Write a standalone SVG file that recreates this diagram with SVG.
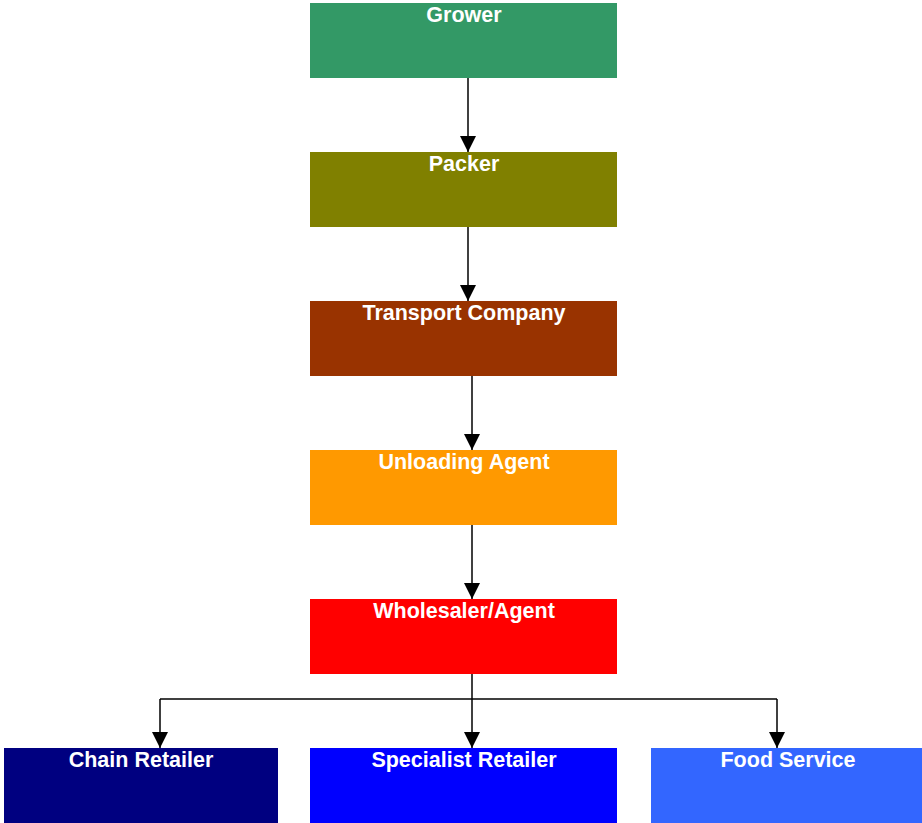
<svg xmlns="http://www.w3.org/2000/svg" width="922" height="823" viewBox="0 0 922 823">
<style>
.lbl{font-family:"Liberation Sans",Arial,sans-serif;font-weight:bold;font-size:21.5px;fill:#fff;text-anchor:middle}
.conn{stroke:#000;stroke-width:1.5;fill:none}
</style>
<defs>
<marker id="ah" markerUnits="userSpaceOnUse" markerWidth="18" markerHeight="16" refX="16" refY="8" orient="auto">
<path d="M0,0 L16,8 L0,16 Z" fill="#000"/>
</marker>
</defs>
<rect width="922" height="823" fill="#fff"/>
<g id="grower"><rect x="310" y="3" width="307" height="75" fill="#339966"/><text class="lbl" x="464" y="22">Grower</text></g>
<g id="packer"><rect x="310" y="152" width="307" height="75" fill="#808000"/><text class="lbl" x="464" y="171">Packer</text></g>
<g id="transport"><rect x="310" y="301" width="307" height="75" fill="#993300"/><text class="lbl" x="464" y="320">Transport Company</text></g>
<g id="unloading"><rect x="310" y="450" width="307" height="75" fill="#FF9900"/><text class="lbl" x="464" y="469">Unloading Agent</text></g>
<g id="wholesaler"><rect x="310" y="599" width="307" height="75" fill="#FF0000"/><text class="lbl" x="464" y="618">Wholesaler/Agent</text></g>
<g id="chain"><rect x="4" y="748" width="274" height="75" fill="#000080"/><text class="lbl" x="141" y="767">Chain Retailer</text></g>
<g id="specialist"><rect x="310" y="748" width="307" height="75" fill="#0000FF"/><text class="lbl" x="464" y="767">Specialist Retailer</text></g>
<g id="food"><rect x="651" y="748" width="271" height="75" fill="#3366FF"/><text class="lbl" x="788" y="767">Food Service</text></g>
<g id="connectors">
<path class="conn" d="M468,78 V152" marker-end="url(#ah)"/>
<path class="conn" d="M468,227 V301" marker-end="url(#ah)"/>
<path class="conn" d="M472,376 V450" marker-end="url(#ah)"/>
<path class="conn" d="M472,525 V599" marker-end="url(#ah)"/>
<path class="conn" d="M472,674 V748" marker-end="url(#ah)"/>
<path class="conn" d="M160,699 H777"/>
<path class="conn" d="M160,699 V748" marker-end="url(#ah)"/>
<path class="conn" d="M777,699 V748" marker-end="url(#ah)"/>
</g>
</svg>
